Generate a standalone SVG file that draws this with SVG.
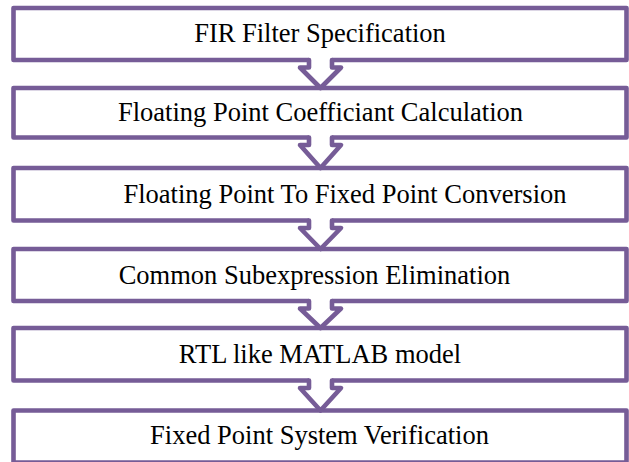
<svg xmlns="http://www.w3.org/2000/svg" width="629" height="462" viewBox="0 0 629 462">
<style>
.box{fill:#ffffff;stroke:#765C97;stroke-width:4.6;stroke-linejoin:round}
.lbl{font-family:"Liberation Serif","Times New Roman",serif;font-size:26.5px;fill:#000000;text-anchor:middle}
.arr-fill{fill:#ffffff;stroke:none}
.arr{fill:none;stroke:#765C97;stroke-width:4.6;stroke-linejoin:round;stroke-linecap:round}
</style>
<rect width="629" height="462" fill="#ffffff"/>
<g id="node1"><rect class="box" x="13.5" y="8" width="613" height="52"/><text class="lbl" x="320" y="42">FIR Filter Specification</text></g>
<g id="node2"><rect class="box" x="13.5" y="88" width="613" height="49.5"/><text class="lbl" x="320.5" y="121">Floating Point Coefficiant Calculation</text></g>
<g id="node3"><rect class="box" x="13.5" y="168" width="613" height="52.5"/><text class="lbl" x="345" y="202.5">Floating Point To Fixed Point Conversion</text></g>
<g id="node4"><rect class="box" x="13.5" y="249" width="613" height="52"/><text class="lbl" x="314.5" y="283.5">Common Subexpression Elimination</text></g>
<g id="node5"><rect class="box" x="13.5" y="328" width="613" height="52.5"/><text class="lbl" x="320" y="362.5">RTL like MATLAB model</text></g>
<g id="node6"><rect class="box" x="13.5" y="410.5" width="613" height="52"/><text class="lbl" x="319.5" y="444">Fixed Point System Verification</text></g>
<g id="connectors">
<g id="a1"><path class="arr-fill" d="M309,57 H332 V67.5 H341 L320.5,88 L300,67.5 H309 Z"/><path class="arr" d="M309,60 V67.5 H300 L320.5,88 L341,67.5 H332 V60"/></g>
<g id="a2"><path class="arr-fill" d="M309,134.5 H332 V145 H341 L320.5,168 L300,145 H309 Z"/><path class="arr" d="M309,137.5 V145 H300 L320.5,168 L341,145 H332 V137.5"/></g>
<g id="a3"><path class="arr-fill" d="M309,217.5 H332 V228 H341 L320.5,249 L300,228 H309 Z"/><path class="arr" d="M309,220.5 V228 H300 L320.5,249 L341,228 H332 V220.5"/></g>
<g id="a4"><path class="arr-fill" d="M309,298 H332 V308.5 H341 L320.5,328 L300,308.5 H309 Z"/><path class="arr" d="M309,301 V308.5 H300 L320.5,328 L341,308.5 H332 V301"/></g>
<g id="a5"><path class="arr-fill" d="M309,377.5 H332 V388 H341 L320.5,410.5 L300,388 H309 Z"/><path class="arr" d="M309,380.5 V388 H300 L320.5,410.5 L341,388 H332 V380.5"/></g>
</g>
</svg>
